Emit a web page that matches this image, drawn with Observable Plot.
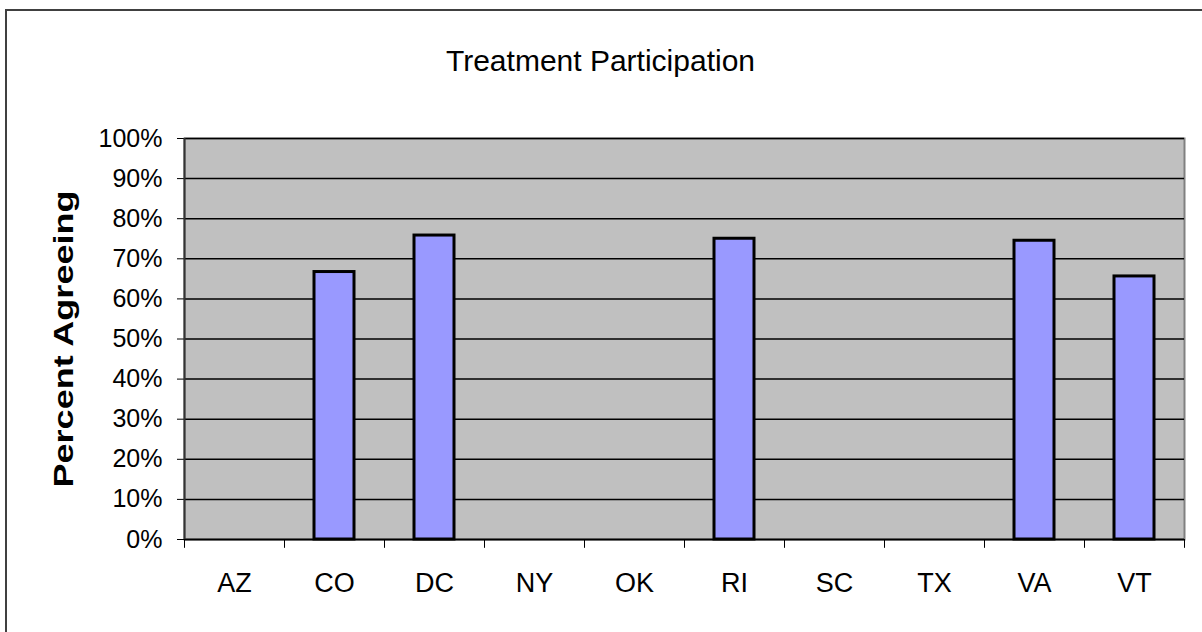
<!DOCTYPE html>
<html>
<head>
<meta charset="utf-8">
<script src="https://cdn.jsdelivr.net/npm/d3@7"></script>
<script src="https://cdn.jsdelivr.net/npm/@observablehq/plot@0.6"></script>
<style>
  html, body { margin: 0; padding: 0; background: #fff; }
  #wrap { position: relative; width: 1202px; height: 632px; overflow: hidden; }
  #frame { position: absolute; left: 5px; top: 9px; width: 1300px; height: 700px;
           border-top: 2px solid #404040; border-left: 2px solid #404040; pointer-events: none; }
</style>
</head>
<body>
<div id="wrap"><div id="frame"></div></div>
<script>
const title = "Treatment Participation";
const yLabel = "Percent Agreeing";
const states = ["AZ", "CO", "DC", "NY", "OK", "RI", "SC", "TX", "VA", "VT"];
const values = [null, 0.667, 0.758, null, null, 0.750, null, null, 0.745, 0.656];
const yTicks = [0, 0.1, 0.2, 0.3, 0.4, 0.5, 0.6, 0.7, 0.8, 0.9, 1.0];

const data = states.map((s, i) => ({state: s, value: values[i]})).filter(d => d.value != null);
const font = "'Liberation Sans', Arial, Helvetica, sans-serif";

const chart = Plot.plot({
  width: 1202,
  height: 632,
  marginLeft: 184,
  marginRight: 18,
  marginTop: 138,
  marginBottom: 93,
  style: {fontFamily: font, fontSize: "25px", color: "#000", background: "transparent"},
  x: {domain: states, paddingInner: 0.6, paddingOuter: 0.3, label: null},
  y: {domain: [0, 1], label: null},
  marks: [
    Plot.frame({fill: "#c0c0c0", stroke: "#808080", strokeWidth: 2}),
    Plot.ruleY(yTicks, {stroke: "#000", strokeWidth: 1.5}),
    Plot.barY(data, {x: "state", y: "value", fill: "#9999ff", stroke: "#000", strokeWidth: 3}),
    Plot.axisY({ticks: yTicks, tickFormat: d3.format(".0%"), tickSize: 7, tickPadding: 15, label: null, fontSize: 25}),
    Plot.axisX({tickSize: 0, tickPadding: 33, label: null, fontSize: 27}),
    Plot.ruleX(states, {x: d => d, dx: -50, y1: 0, y2: -0.022, stroke: "#000", strokeWidth: 1}),
    Plot.ruleX([states[states.length - 1]], {x: d => d, dx: 50, y1: 0, y2: -0.022, stroke: "#000", strokeWidth: 1}),
    Plot.ruleY([0], {stroke: "#000", strokeWidth: 1.5}),
    Plot.ruleX([states[0]], {x: d => d, dx: -50, y1: 0, y2: 1, stroke: "#333", strokeWidth: 2}),
    Plot.text([yLabel], {text: d => d, frameAnchor: "left", textAnchor: "middle", rotate: -90, dx: -120, fontSize: 28, fontWeight: "bold", className: "ylab"}),
    Plot.text([title], {text: d => d, frameAnchor: "top", dx: -84, dy: -89, fontSize: 30})
  ]
});
document.getElementById("wrap").prepend(chart);
chart.querySelectorAll(".ylab text").forEach(t => {
  t.setAttribute("textLength", "297");
  t.setAttribute("lengthAdjust", "spacingAndGlyphs");
});
</script>
</body>
</html>
